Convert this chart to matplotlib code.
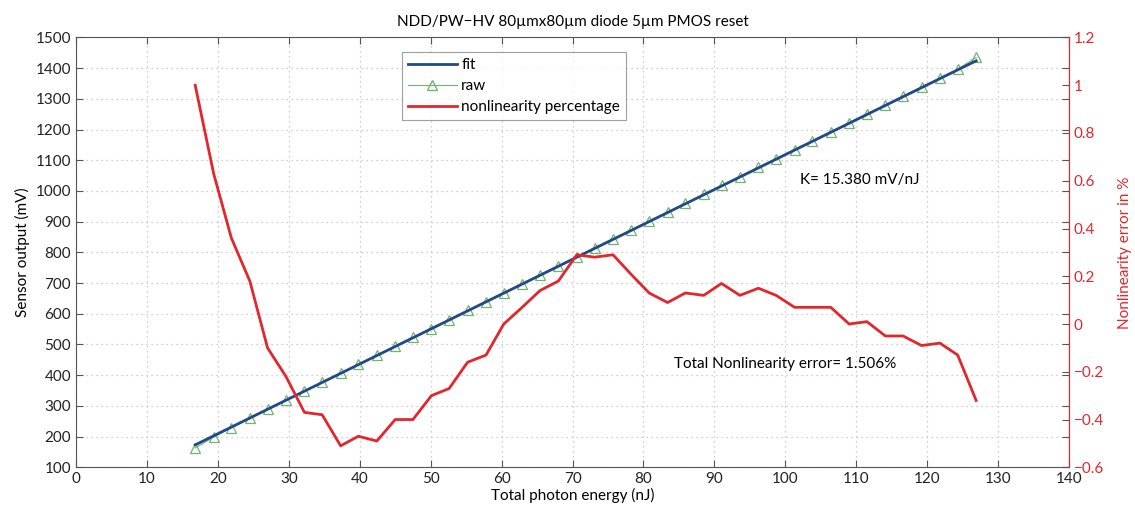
import matplotlib
matplotlib.use("Agg")
from matplotlib import pyplot as plt
from matplotlib.lines import Line2D

plt.rcParams['font.family'] = ['Lato', 'DejaVu Sans']

# photon energy (nJ) of each measurement
energy = [16.8, 19.4, 21.9, 24.5, 27.0, 29.6, 32.2, 34.7, 37.3, 39.8, 42.4,
          45.0, 47.5, 50.1, 52.6, 55.2, 57.8, 60.3, 62.9, 65.4, 68.0, 70.6,
          73.1, 75.7, 78.2, 80.8, 83.4, 85.9, 88.5, 91.0, 93.6, 96.2, 98.7,
          101.3, 103.8, 106.4, 109.0, 111.5, 114.1, 116.6, 119.2, 121.8, 124.3, 126.9]

# raw sensor output (mV)
raw = [163, 198, 229, 259, 289, 319, 349, 377, 406, 435, 465,
       494, 523, 552, 581, 611, 640, 669, 698, 727, 757, 786,
       815, 844, 872, 902, 931, 960, 989, 1018, 1047, 1077, 1105,
       1135, 1163, 1193, 1222, 1251, 1280, 1309, 1338, 1368, 1397, 1435]

# linear fit end points
fit_x = [16.8, 126.9]
fit_y = [173, 1424]

# nonlinearity (%)
nonlin = [1.00, 0.63, 0.36, 0.18, -0.10, -0.22, -0.37, -0.38, -0.51, -0.47, -0.49,
          -0.40, -0.40, -0.30, -0.27, -0.16, -0.13, 0.00, 0.07, 0.14, 0.18, 0.29,
          0.28, 0.29, 0.21, 0.13, 0.09, 0.13, 0.12, 0.17, 0.12, 0.15, 0.12,
          0.07, 0.07, 0.07, 0.00, 0.01, -0.05, -0.05, -0.09, -0.08, -0.13, -0.32]

blue = '#23488a'
green = '#6fb46f'
red = '#e3262b'
frame = '#555555'

fig = plt.figure(figsize=(11.35, 5.12), dpi=100)
ax = fig.add_axes([0.067, 0.0873, 0.8749, 0.8395])
ax2 = ax.twinx()

ax.plot(fit_x, fit_y, color=blue, lw=2, zorder=3)
ax.plot(energy, raw, color=green, lw=0.8, marker='^', ms=7.5,
        mfc='none', mec=green, mew=0.9, zorder=2)
ax2.plot(energy, nonlin, color=red, lw=2)

ax.set_xlim(0, 140)
ax.set_ylim(100, 1500)
ax.set_xticks(range(0, 141, 10))
ax.set_yticks(range(100, 1501, 100))
ax.grid(True, ls=(0, (1, 3)), color='#c0c0c0', lw=0.9)
ax.tick_params(direction='in', top=True, right=True, length=5,
               color=frame, labelsize=11, labelcolor='#222222')
for s in ax.spines.values():
    s.set_color(frame)

ax2.set_ylim(-0.6, 1.2)
ax2.set_yticks([-0.6, -0.4, -0.2, 0, 0.2, 0.4, 0.6, 0.8, 1.0, 1.2])
ax2.set_yticklabels(['\u22120.6', '\u22120.4', '\u22120.2', '0', '0.2', '0.4',
                     '0.6', '0.8', '1', '1.2'])
ax2.tick_params(direction='in', length=5, color=frame, labelsize=11,
                labelcolor=red)
ax2.spines['right'].set_color(red)
for s in ['left', 'top', 'bottom']:
    ax2.spines[s].set_visible(False)

ax.set_xlabel('Total photon energy (nJ)', fontsize=11, labelpad=1)
ax.set_ylabel('Sensor output (mV)', fontsize=11, labelpad=4)
ax2.set_ylabel('Nonlinearity error in %', fontsize=11, color=red,
               rotation=90, labelpad=10)
ax.set_title('NDD/PW\u2212HV 80\u00b5mx80\u00b5m diode 5\u00b5m PMOS reset',
             fontsize=11, pad=8)

ax.text(102.1, 1036, 'K= 15.380 mV/nJ', fontsize=11, va='center', ha='left')
ax.text(84.3, 436, 'Total Nonlinearity error= 1.506%', fontsize=11,
        va='center', ha='left')

handles = [Line2D([], [], color=blue, lw=2),
           Line2D([], [], color=green, lw=0.8, marker='^', ms=7.5, mfc='none', mec=green),
           Line2D([], [], color=red, lw=2)]
leg = ax2.legend(handles, ['fit', 'raw', 'nonlinearity percentage'],
                 loc='upper left', bbox_to_anchor=(0.328, 0.966),
                 fontsize=11, frameon=True, fancybox=False,
                 edgecolor='#888888', borderpad=0.4, labelspacing=0.45,
                 handlelength=3.2, handletextpad=0.3, borderaxespad=0)
leg.get_frame().set_linewidth(0.8)

fig.savefig('out.png', dpi=100)
